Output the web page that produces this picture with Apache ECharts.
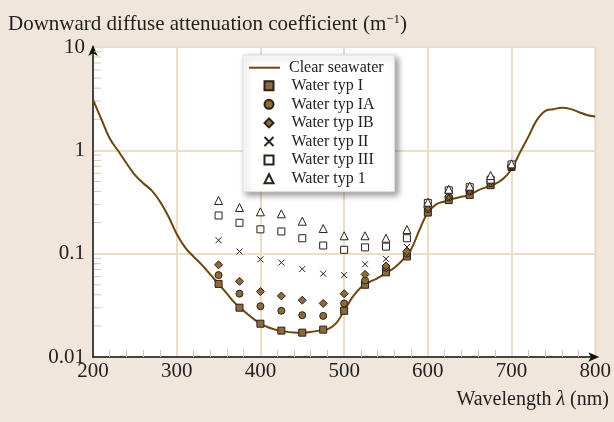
<!DOCTYPE html>
<html>
<head>
<meta charset="utf-8">
<script src="https://cdn.jsdelivr.net/npm/echarts@6/dist/echarts.min.js"></script>
<style>
  html, body { margin: 0; padding: 0; background: #f1e6dc; }
  #chart { width: 614px; height: 422px; }
</style>
</head>
<body>
<div id="chart"></div>
<script>
// clear seawater curve
const clearWl = [200, 210, 220, 230, 240, 250, 260, 270, 280, 290, 300, 310, 320, 330, 340, 350,
  360, 370, 380, 390, 400, 410, 420, 430, 440, 450, 460, 470, 480, 490, 500, 510, 520, 530, 540,
  550, 560, 570, 580, 590, 600, 610, 620, 630, 640, 650, 660, 670, 680, 690, 700, 710, 720, 730,
  740, 750, 760, 770, 780, 790, 800];
const clearK = [3.1, 2.0, 1.3, 0.99, 0.75, 0.58, 0.48, 0.41, 0.32, 0.23, 0.155, 0.115, 0.094, 0.078,
  0.063, 0.051, 0.041, 0.033, 0.028, 0.024, 0.021, 0.0193, 0.0182, 0.0176, 0.0173, 0.0172, 0.0175,
  0.018, 0.0185, 0.021, 0.028, 0.038, 0.047, 0.053, 0.058, 0.065, 0.073, 0.087, 0.11, 0.17, 0.25,
  0.30, 0.32, 0.34, 0.355, 0.37, 0.41, 0.44, 0.47, 0.53, 0.66, 0.95, 1.35, 1.95, 2.4, 2.5, 2.58,
  2.52, 2.35, 2.2, 2.12];

// Jerlov water types, sampled every 25 nm
const sampleWl = [350, 375, 400, 425, 450, 475, 500, 525, 550, 575, 600, 625, 650, 675, 700];
const typeI = [0.051, 0.030, 0.021, 0.018, 0.0172, 0.0184, 0.028, 0.050, 0.066, 0.094, 0.25, 0.33, 0.37, 0.46, 0.69];
const typeIA = [0.062, 0.041, 0.031, 0.028, 0.0254, 0.025, 0.033, 0.055, 0.073, 0.100, 0.27, 0.35, 0.40, 0.48, 0.70];
const typeIB = [0.078, 0.054, 0.043, 0.039, 0.0355, 0.033, 0.041, 0.063, 0.076, 0.105, 0.28, 0.36, 0.41, 0.50, 0.71];
const typeII = [0.135, 0.105, 0.088, 0.082, 0.071, 0.064, 0.062, 0.079, 0.089, 0.116, 0.29, 0.37, 0.42, 0.52, 0.72];
const typeIII = [0.234, 0.199, 0.172, 0.164, 0.141, 0.120, 0.109, 0.115, 0.117, 0.141, 0.31, 0.41, 0.44, 0.52, 0.73];
const type1 = [0.327, 0.28, 0.254, 0.243, 0.206, 0.175, 0.149, 0.149, 0.141, 0.171, 0.315, 0.42, 0.45, 0.57, 0.74];

const lineName = "Clear seawater";
const typeNames = ["Water typ I", "Water typ IA", "Water typ IB", "Water typ II", "Water typ III", "Water typ 1"];

// log minor ticks 2..9 in each decade
const minorY = [0.02, 0.03, 0.04, 0.05, 0.06, 0.07, 0.08, 0.09,
  0.2, 0.3, 0.4, 0.5, 0.6, 0.7, 0.8, 0.9,
  2, 3, 4, 5, 6, 7, 8, 9];

const serif = "Liberation Serif, DejaVu Serif, serif";
const brown = "#8c6a3c";
const dark = "#2b2117";
const curveColor = "#6a4610";

const pairs = (xs, ys) => xs.map((x, i) => [x, ys[i]]);

const chart = echarts.init(document.getElementById("chart"));

function scatter(name, vals, symbol, fill, size) {
  return {
    name: name,
    type: "scatter",
    data: pairs(sampleWl, vals),
    symbol: symbol,
    symbolSize: size,
    itemStyle: { color: fill, borderColor: dark, borderWidth: 1, opacity: 1 },
    z: 3,
  };
}

chart.setOption({
  backgroundColor: "#f1e6dc",
  animation: false,
  title: [
    {
      text: "Downward diffuse attenuation coefficient (m{sup|−1})",
      left: 8,
      top: 13,
      padding: 0,
      textStyle: {
        fontFamily: serif, fontSize: 21, fontWeight: "normal", color: "#222",
        rich: { sup: { fontFamily: serif, fontSize: 13, color: "#222", verticalAlign: "top", padding: [0, 0, 10, 0] } },
      },
    },
    {
      text: "Wavelength {it|λ} (nm)",
      right: 5,
      top: 390,
      padding: 0,
      textStyle: {
        fontFamily: serif, fontSize: 20, fontWeight: "normal", color: "#222",
        rich: { it: { fontFamily: serif, fontSize: 20, fontStyle: "italic", color: "#222" } },
      },
    },
  ],
  legend: [
    {
      // boxed legend for the water types, top padding leaves room for the curve entry
      data: typeNames,
      orient: "vertical",
      left: 243,
      top: 55,
      padding: [22.7, 20, 5, 19],
      itemWidth: 9,
      itemHeight: 9,
      itemGap: 2.6,
      backgroundColor: "#fff",
      borderColor: "#ddd",
      borderWidth: 1,
      shadowColor: "rgba(0,0,0,0.4)",
      shadowBlur: 6,
      shadowOffsetX: 3,
      shadowOffsetY: 3,
      textStyle: { fontFamily: serif, fontSize: 16, color: "#222", padding: [0, 0, 0, 13] },
      z: 4,
    },
    {
      data: [{ name: lineName, icon: "path://M0,0H31V2H0Z" }],
      orient: "vertical",
      left: 249,
      top: 59.7,
      padding: 0,
      itemWidth: 31,
      itemHeight: 9,
      textStyle: { fontFamily: serif, fontSize: 16, color: "#222", padding: [0, 0, 0, 4] },
      z: 5,
    },
  ],
  grid: {
    left: 93,
    right: 17,
    top: 47,
    bottom: 65,
    show: true,
    backgroundColor: "#fff",
    borderColor: "#ecdcc8",
    borderWidth: 2,
  },
  xAxis: {
    type: "value",
    min: 200,
    max: 800,
    interval: 100,
    axisLine: { lineStyle: { color: "#111", width: 1.5 }, symbol: ["none", "arrow"], symbolSize: [7, 11], symbolOffset: [0, 4] },
    axisTick: { show: false, inside: true },
    minorTick: { show: true, splitNumber: 5, length: 7, lineStyle: { color: "#d8c6b2", width: 1 } },
    splitLine: { show: true, lineStyle: { color: "#ecdcc8", width: 2 } },
    axisLabel: { fontFamily: serif, fontSize: 21, color: "#222", margin: 4 },
  },
  yAxis: {
    type: "log",
    logBase: 10,
    min: 0.01,
    max: 10,
    axisLine: { lineStyle: { color: "#111", width: 1.5 }, symbol: ["none", "arrow"], symbolSize: [7, 11], symbolOffset: [0, 2] },
    axisTick: { show: false },
    splitLine: { show: true, lineStyle: { color: "#ecdcc8", width: 2 } },
    axisLabel: {
      fontFamily: serif, fontSize: 21, color: "#222", margin: 8,
      formatter: (v) => (v >= 1 ? String(Math.round(v)) : String(+v.toPrecision(1))),
    },
  },
  series: [
    {
      name: lineName,
      type: "line",
      data: pairs(clearWl, clearK),
      smooth: 0.4,
      symbol: "none",
      lineStyle: { color: curveColor, width: 2 },
      itemStyle: { color: curveColor },
      z: 2,
    },
    scatter("Water typ I", typeI, "rect", brown, 7),
    scatter("Water typ IA", typeIA, "circle", brown, 7),
    scatter("Water typ IB", typeIB, "diamond", brown, 8),
    scatter("Water typ II", typeII, "path://M0,0L10,10M10,0L0,10", "none", 6),
    scatter("Water typ III", typeIII, "rect", "#fff", 7),
    scatter("Water typ 1", type1, "triangle", "#fff", 8),
    {
      name: "minorY",
      type: "custom",
      silent: true,
      data: minorY.map((v) => [200, v]),
      renderItem: (params, api) => {
        const p = api.coord([api.value(0), api.value(1)]);
        return {
          type: "line",
          shape: { x1: p[0] + 1, y1: p[1], x2: p[0] + 8, y2: p[1] },
          style: { stroke: "#d8c6b2", lineWidth: 1 },
        };
      },
      z: 1,
    },
  ],
});
</script>
</body>
</html>
